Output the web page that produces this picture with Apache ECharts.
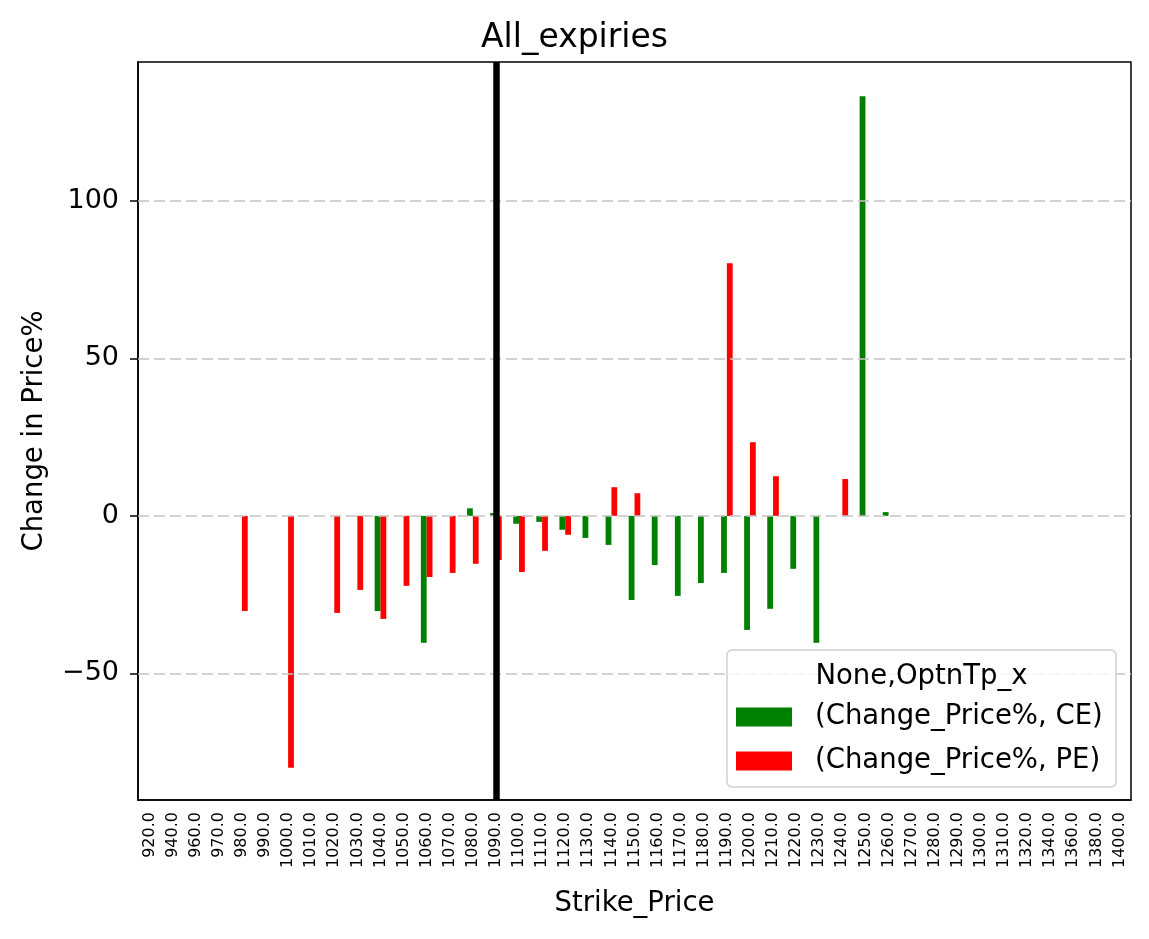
<!DOCTYPE html>
<html>
<head>
<meta charset="utf-8">
<script src="https://cdn.jsdelivr.net/npm/echarts@6/dist/echarts.min.js"></script>
<style>
  html, body { margin: 0; padding: 0; background: #fff; }
  #chart { width: 1149px; height: 939px; }
</style>
</head>
<body>
<div id="chart"></div>
<script>
// strike prices (category axis)
var strikes = ['920.0', '940.0', '960.0', '970.0', '980.0', '990.0', '1000.0', '1010.0', '1020.0', '1030.0',
  '1040.0', '1050.0', '1060.0', '1070.0', '1080.0', '1090.0', '1100.0', '1110.0', '1120.0', '1130.0',
  '1140.0', '1150.0', '1160.0', '1170.0', '1180.0', '1190.0', '1200.0', '1210.0', '1220.0', '1230.0',
  '1240.0', '1250.0', '1260.0', '1270.0', '1280.0', '1290.0', '1300.0', '1310.0', '1320.0', '1340.0',
  '1360.0', '1380.0', '1400.0']

// (Change_Price%, CE)
var ceValues = [null, null, null, null, null, null, null, null, null, null,
  -30.2, null, -40.3, null, 2.4, 0.9, -2.5, -1.9, -4.4, -7.0,
  -9.2, -26.7, -15.6, -25.4, -21.3, -18.1, -36.2, -29.5, -16.8, -40.3,
  null, 133.2, 1.2, null, null, null, null, null, null, null,
  null, null, null]

// (Change_Price%, PE)
var peValues = [null, null, null, null, -30.2, null, -80.0, null, -30.8, -23.5,
  -32.7, -22.2, -19.4, -18.1, -15.2, -14.0, -17.8, -11.1, -6.0, null,
  9.1, 7.2, null, null, null, 80.2, 23.4, 12.6, null, null,
  11.7, null, null, null, null, null, null, null, null, null,
  null, null, null]

var yTicks = [-50, 0, 50, 100]
var atmStrike = '1090.0'

var FONT = 'DejaVu Sans'

var chart = echarts.init(document.getElementById('chart'))

var option = {
  backgroundColor: '#fff',
  animation: false,
  textStyle: { fontFamily: FONT, color: '#000' },
  title: {
    text: 'All_expiries',
    left: 'center',
    top: 17,
    textStyle: { fontFamily: FONT, fontSize: 33, fontWeight: 'normal', color: '#000' }
  },
  grid: {
    left: 138, right: 18, top: 62, bottom: 139,
    show: true, borderColor: '#000', borderWidth: 1.5, backgroundColor: 'transparent'
  },
  legend: {
    orient: 'vertical',
    left: 736,
    top: 703,
    padding: 0,
    itemWidth: 56,
    itemHeight: 19,
    itemGap: 16,
    icon: 'rect',
    z: 120,
    textStyle: { fontFamily: FONT, fontSize: 27.5, color: '#000', padding: [0, 0, 0, 18] },
    data: ['(Change_Price%, CE)', '(Change_Price%, PE)']
  },
  graphic: [
    {
      type: 'rect', z: 100,
      shape: { x: 727, y: 650, width: 389, height: 137, r: 5 },
      style: { fill: 'rgba(255,255,255,0.8)', stroke: '#d0d0d0', lineWidth: 1.5 }
    },
    {
      type: 'text', z: 110,
      x: 921.5, y: 677,
      style: { text: 'None,OptnTp_x', fontFamily: FONT, fontSize: 27.5, fill: '#000', align: 'center', verticalAlign: 'middle' }
    }
  ],
  xAxis: {
    type: 'category',
    data: strikes,
    boundaryGap: true,
    name: 'Strike_Price',
    nameLocation: 'middle',
    nameGap: 90,
    nameTextStyle: { fontFamily: FONT, fontSize: 27.5, color: '#000' },
    axisLine: { onZero: false, lineStyle: { color: '#000', width: 1.5 } },
    axisTick: { alignWithLabel: true, length: 8, lineStyle: { color: '#000', width: 1.5 } },
    axisLabel: { rotate: 90, interval: 0, margin: 12, fontFamily: FONT, fontSize: 16, color: '#000' },
    splitLine: { show: false }
  },
  yAxis: {
    type: 'value',
    min: -90.2,
    max: 144.1,
    name: 'Change in Price%',
    nameLocation: 'middle',
    nameRotate: 90,
    nameGap: 89,
    nameTextStyle: { fontFamily: FONT, fontSize: 27.5, color: '#000' },
    axisLine: { show: true, lineStyle: { color: '#000', width: 1.5 } },
    axisTick: { show: true, length: 8, customValues: yTicks, lineStyle: { color: '#000', width: 1.5 } },
    axisLabel: {
      customValues: yTicks,
      margin: 19,
      fontFamily: FONT, fontSize: 27, color: '#000',
      formatter: function (v) { return String(v).replace('-', '\u2212') }
    },
    splitLine: { show: false }
  },
  series: [
    {
      name: '(Change_Price%, CE)',
      type: 'bar',
      data: ceValues,
      barWidth: 5.8,
      barGap: '0%',
      itemStyle: { color: '#008000' },
      markLine: {
        silent: true,
        symbol: 'none',
        label: { show: false },
        lineStyle: { color: '#c4c4c4', type: [11, 5], width: 1.6 },
        data: yTicks.map(function (v) { return { yAxis: v } })
      }
    },
    {
      name: '(Change_Price%, PE)',
      type: 'bar',
      data: peValues,
      barWidth: 5.8,
      barGap: '0%',
      itemStyle: { color: '#ff0000' }
    },
    {
      // vertical marker at the ATM strike
      name: 'atm',
      type: 'line',
      data: [],
      z: 5,
      markLine: {
        silent: true,
        symbol: 'none',
        label: { show: false },
        lineStyle: { color: '#000', type: 'solid', width: 6.5 },
        data: [{ xAxis: atmStrike }]
      }
    }
  ]
}

chart.setOption(option)
</script>
</body>
</html>
